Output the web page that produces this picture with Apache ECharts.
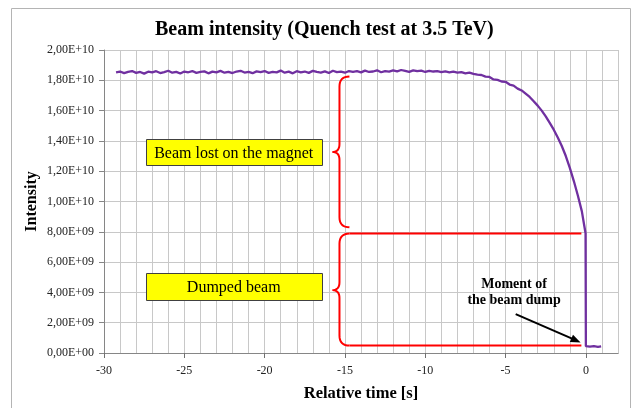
<!DOCTYPE html>
<html>
<head>
<meta charset="utf-8">
<script src="https://cdn.jsdelivr.net/npm/echarts@6/dist/echarts.min.js"></script>
<style>
  html, body { margin: 0; padding: 0; background: #fff; }
  #chart { width: 633px; height: 408px; }
</style>
</head>
<body>
<div id="chart"></div>
<script>
// beam intensity, values in units of 1e10
const plateauTime = [
  -29.25, -29, -28.75, -28.5, -28.25, -28, -27.75, -27.5, -27.25, -27,
  -26.75, -26.5, -26.25, -26, -25.75, -25.5, -25.25, -25, -24.75, -24.5,
  -24.25, -24, -23.75, -23.5, -23.25, -23, -22.75, -22.5, -22.25, -22,
  -21.75, -21.5, -21.25, -21, -20.75, -20.5, -20.25, -20, -19.75, -19.5,
  -19.25, -19, -18.75, -18.5, -18.25, -18, -17.75, -17.5, -17.25, -17,
  -16.75, -16.5, -16.25, -16, -15.75, -15.5, -15.25, -15, -14.75, -14.5,
  -14.25, -14, -13.75, -13.5, -13.25, -13, -12.75, -12.5, -12.25, -12,
  -11.75, -11.5, -11.25, -11, -10.75, -10.5, -10.25, -10, -9.75, -9.5,
  -9.25, -9, -8.75, -8.5, -8.25, -8, -7.75, -7.5, -7.25, -7
];
const plateauValue = [
  1.852, 1.858, 1.847, 1.856, 1.861, 1.849, 1.855, 1.844, 1.857, 1.852,
  1.860, 1.848, 1.854, 1.863, 1.850, 1.856, 1.845, 1.858, 1.853, 1.861,
  1.849, 1.855, 1.859, 1.846, 1.857, 1.852, 1.862, 1.850, 1.856, 1.848,
  1.858, 1.863, 1.851, 1.855, 1.847, 1.859, 1.854, 1.861, 1.849, 1.856,
  1.852, 1.864, 1.850, 1.857, 1.846, 1.860, 1.853, 1.858, 1.849, 1.862,
  1.855, 1.851, 1.859, 1.848, 1.863, 1.854, 1.857, 1.850, 1.861, 1.856,
  1.860, 1.852, 1.864, 1.855, 1.858, 1.866, 1.853, 1.861, 1.857, 1.865,
  1.859, 1.868, 1.862, 1.856, 1.866, 1.860, 1.864, 1.855, 1.862, 1.858,
  1.861, 1.854, 1.859, 1.852, 1.857, 1.850, 1.854, 1.846, 1.851, 1.843
];
const decayTime = [
  -6.75, -6.5, -6.25, -6, -5.75, -5.5, -5.25, -5, -4.75, -4.5,
  -4.25, -4, -3.75, -3.5, -3.25, -3, -2.75, -2.5, -2.25, -2,
  -1.75, -1.5, -1.25, -1, -0.75, -0.5, -0.25, -0.1, -0.02
];
const decayValue = [
  1.838, 1.835, 1.824, 1.822, 1.806, 1.803, 1.792, 1.790, 1.772, 1.765,
  1.745, 1.733, 1.712, 1.690, 1.662, 1.633, 1.600, 1.562, 1.519, 1.474,
  1.422, 1.366, 1.300, 1.222, 1.135, 1.040, 0.935, 0.840, 0.790
];
const dumpTime = [0, 0.25, 0.5, 0.75, 0.95];
const dumpValue = [0.045, 0.042, 0.046, 0.041, 0.044];

const xMajorTicks = [-30, -25, -20, -15, -10, -5, 0];
const UNIT = 1e10;

const FONT = "'Liberation Serif', 'DejaVu Serif', serif";

const seriesData = [];
[[plateauTime, plateauValue], [decayTime, decayValue], [dumpTime, dumpValue]].forEach(function (p) {
  p[0].forEach(function (t, i) { seriesData.push([t, p[1][i] * UNIT]); });
});

function sciLabel(v) {
  let s = v.toExponential(2);
  let parts = s.split('e');
  let exp = parseInt(parts[1], 10);
  let e = (exp < 0 ? '-' : '+') + (Math.abs(exp) < 10 ? '0' : '') + Math.abs(exp);
  return parts[0].replace('.', ',') + 'E' + e;
}

const chart = echarts.init(document.getElementById('chart'), null, { renderer: 'canvas' });

const option = {
  backgroundColor: '#fff',
  animation: false,
  title: {
    text: 'Beam intensity (Quench test at 3.5 TeV)',
    left: 150,
    top: 15,
    textStyle: { fontFamily: FONT, fontSize: 20, fontWeight: 'bold', color: '#000' }
  },
  grid: { left: 104, right: 15, top: 50, bottom: 55 },
  xAxis: [
    {
      type: 'value',
      min: -30,
      max: 2,
      interval: 1,
      name: 'Relative time [s]',
      nameLocation: 'middle',
      nameGap: 32,
      nameTextStyle: { fontFamily: FONT, fontSize: 16.5, fontWeight: 'bold', color: '#000' },
      axisLine: { show: true, onZero: false, lineStyle: { color: '#868686', width: 1 } },
      axisTick: { show: false },
      axisLabel: {
        margin: 12,
        fontFamily: FONT,
        fontSize: 12,
        color: '#222',
        formatter: function (v) { return xMajorTicks.indexOf(v) >= 0 ? String(v) : ''; }
      },
      splitLine: { show: true, lineStyle: { color: '#c8c8c8', width: 1 } }
    },
    {
      type: 'value',
      min: -30,
      max: 2,
      interval: 5,
      position: 'bottom',
      axisLine: { show: true, onZero: false, lineStyle: { color: '#868686', width: 1 } },
      axisTick: { show: true, length: 5, customValues: xMajorTicks, lineStyle: { color: '#707070', width: 1 } },
      axisLabel: { show: false },
      splitLine: { show: false }
    }
  ],
  yAxis: {
    type: 'value',
    min: 0,
    max: 2e10,
    interval: 2e9,
    name: 'Intensity',
    nameLocation: 'middle',
    nameGap: 64,
    nameMoveOverlap: false,
    nameTextStyle: { fontFamily: FONT, fontSize: 16, fontWeight: 'bold', color: '#000' },
    axisLine: { show: true, onZero: false, lineStyle: { color: '#868686', width: 1 } },
    axisTick: { show: true, length: 5, lineStyle: { color: '#868686' } },
    axisLabel: { margin: 10, fontFamily: FONT, fontSize: 12, color: '#222', formatter: sciLabel },
    splitLine: { show: true, lineStyle: { color: '#c8c8c8', width: 1 } }
  },
  series: [
    {
      type: 'line',
      xAxisIndex: 0,
      data: seriesData,
      showSymbol: false,
      lineStyle: { color: '#7030a0', width: 2.3 },
      itemStyle: { color: '#7030a0' }
    }
  ]
};

chart.setOption(option);

// annotations positioned in data units (time, intensity / 1e10)
function px(t, v) { return chart.convertToPixel({ gridIndex: 0 }, [t, v * UNIT]); }

function quad(pts, p0, c, p1) {
  for (let i = 1; i <= 8; i++) {
    const s = i / 8;
    pts.push([
      (1 - s) * (1 - s) * p0[0] + 2 * (1 - s) * s * c[0] + s * s * p1[0],
      (1 - s) * (1 - s) * p0[1] + 2 * (1 - s) * s * c[1] + s * s * p1[1]
    ]);
  }
}

// curly brace "{" opening to the right
function brace(xEnd, xSpine, xTip, vTop, vBot, vMid) {
  const a = px(xEnd, vTop), b = px(xEnd, vBot), m = px(xTip, vMid);
  const s = px(xSpine, vTop)[0];
  const yT = a[1], yB = b[1], yM = m[1];
  const pts = [[a[0], yT]];
  quad(pts, [a[0], yT], [s, yT], [s, yT + 10]);
  pts.push([s, yM - 8]);
  quad(pts, [s, yM - 8], [s, yM], [m[0], yM]);
  quad(pts, [m[0], yM], [s, yM], [s, yM + 8]);
  pts.push([s, yB - 10]);
  quad(pts, [s, yB - 10], [s, yB], [b[0], yB]);
  return pts;
}

function box(t0, t1, v0, v1, label) {
  const p0 = px(t0, v0), p1 = px(t1, v1);
  return [
    {
      type: 'rect',
      shape: { x: Math.round(p0[0]) + 0.5, y: Math.round(p0[1]) + 0.5, width: Math.round(p1[0] - p0[0]), height: Math.round(p1[1] - p0[1]) },
      style: { fill: '#ffff00', stroke: '#404040', lineWidth: 1 }
    },
    {
      type: 'text',
      x: (p0[0] + p1[0]) / 2,
      y: (p0[1] + p1[1]) / 2 + 1,
      style: { text: label, font: '16px ' + FONT, fill: '#000', align: 'center', verticalAlign: 'middle' }
    }
  ];
}

const redTop = [px(-14.72, 0.788), px(-0.28, 0.788)];
const redBot = [px(-14.72, 0.049), px(-0.28, 0.049)];
const arrowFrom = px(-4.37, 0.257), arrowTo = px(-0.33, 0.07);
const ang = Math.atan2(arrowTo[1] - arrowFrom[1], arrowTo[0] - arrowFrom[0]);
const head = [
  arrowTo,
  [arrowTo[0] - 10 * Math.cos(ang) + 4 * Math.sin(ang), arrowTo[1] - 10 * Math.sin(ang) - 4 * Math.cos(ang)],
  [arrowTo[0] - 10 * Math.cos(ang) - 4 * Math.sin(ang), arrowTo[1] - 10 * Math.sin(ang) + 4 * Math.cos(ang)]
];
const momentPos = px(-4.47, 0.448);

const graphics = [
  {
    type: 'rect',
    shape: { x: 11.5, y: 8.5, width: 619, height: 420 },
    style: { fill: null, stroke: '#b4b4b4', lineWidth: 1 }
  },
  {
    type: 'polyline',
    shape: { points: brace(-14.72, -15.34, -15.78, 1.825, 0.83, 1.327) },
    style: { fill: null, stroke: '#ff0000', lineWidth: 2 }
  },
  {
    type: 'polyline',
    shape: { points: brace(-14.72, -15.34, -15.78, 0.788, 0.049, 0.415) },
    style: { fill: null, stroke: '#ff0000', lineWidth: 2 }
  },
  {
    type: 'line',
    shape: { x1: redTop[0][0], y1: redTop[0][1], x2: redTop[1][0], y2: redTop[1][1] },
    style: { stroke: '#ff0000', lineWidth: 2 }
  },
  {
    type: 'line',
    shape: { x1: redBot[0][0], y1: redBot[0][1], x2: redBot[1][0], y2: redBot[1][1] },
    style: { stroke: '#ff0000', lineWidth: 2 }
  },
  {
    type: 'text',
    x: momentPos[0],
    y: momentPos[1] - 9,
    style: {
      text: 'Moment of\nthe beam dump',
      font: 'bold 14px ' + FONT,
      fill: '#000',
      align: 'center',
      lineHeight: 16
    }
  },
  {
    type: 'line',
    shape: { x1: arrowFrom[0], y1: arrowFrom[1], x2: arrowTo[0] - 8 * Math.cos(ang), y2: arrowTo[1] - 8 * Math.sin(ang) },
    style: { stroke: '#000', lineWidth: 2 }
  },
  {
    type: 'polygon',
    shape: { points: head },
    style: { fill: '#000' }
  }
].concat(
  box(-27.39, -16.46, 1.41, 1.239, 'Beam lost on the magnet'),
  box(-27.39, -16.46, 0.527, 0.349, 'Dumped beam')
);

chart.setOption({ graphic: graphics });
</script>
</body>
</html>
